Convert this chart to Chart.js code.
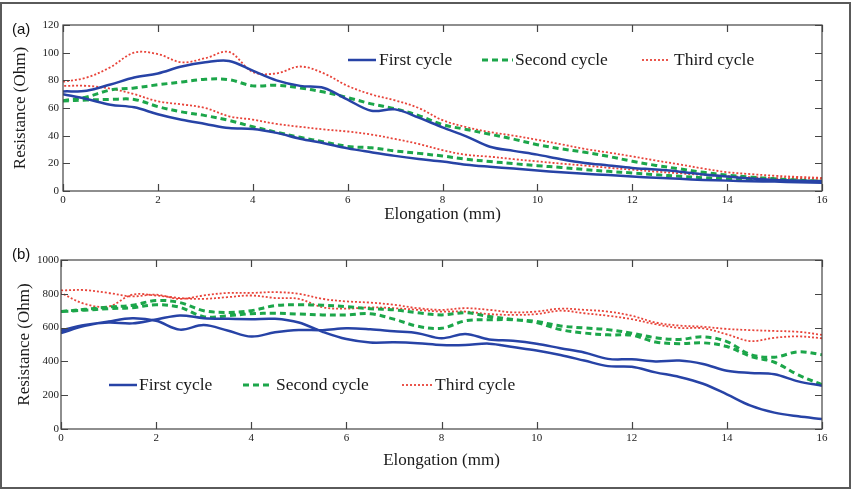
<!DOCTYPE html>
<html><head><meta charset="utf-8">
<script src="https://cdn.jsdelivr.net/npm/chart.js@4.4.0/dist/chart.umd.min.js"></script>
<style>
html,body{margin:0;padding:0;background:#fff;width:853px;height:490px;overflow:hidden;}
#frame{position:absolute;left:0;top:2px;width:851px;height:487px;box-sizing:border-box;border:2px solid #5a5a5a;}
canvas{position:absolute;left:0;}
#ca{top:0;} #cb{top:240px;}
.tag{position:absolute;font-family:"Liberation Sans",Arial,sans-serif;font-size:15px;color:#111;line-height:1;}
</style></head><body>
<div id="frame"></div>
<canvas id="ca" width="853" height="240"></canvas>
<canvas id="cb" width="853" height="250"></canvas>
<div class="tag" style="left:12px;top:21px">(a)</div>
<div class="tag" style="left:12px;top:246px">(b)</div>
<script>
// ---------- data ----------
const elongation = [0,0.5,1,1.5,2,2.5,3,3.5,4,4.5,5,5.5,6,6.5,7,7.5,8,8.5,9,9.5,10,10.5,11,11.5,12,12.5,13,13.5,14,14.5,15,15.5,16];
const seriesNames = ['First cycle','Second cycle','Third cycle'];
const xTickLabels = [0,2,4,6,8,10,12,14,16];
const yTickLabelsA = [0,20,40,60,80,100,120];
const yTickLabelsB = [0,200,400,600,800,1000];

// panel (a)
const aFirstLoad    = [72,72.5,77,82,85,90,93,94,87,80,76,74.5,66,58,59,53,46,39.5,32,29,26.3,23,20.3,18.5,16.7,15.5,14,12,10.5,9,8,7.5,7];
const aFirstUnload  = [70,66.5,62.4,60.5,55.5,51.5,48.5,45.5,44.8,42,37.8,34.5,30.8,28,25.4,23.2,21.3,19,17.5,16.2,14.8,13.5,12.5,11.5,10.5,9.5,8.8,8,7.5,7,6.8,6.3,6];
const aSecondLoad   = [65.3,68,73,74.5,76.8,78.8,80.8,80.5,76,76.5,74.5,71.5,67.5,63,59.5,54.5,48,44.5,41,37.5,33.5,30.5,28,25,21.5,18.5,16,13.5,11.5,10,8.8,7.8,7];
const aSecondUnload = [65,65.8,66.2,66.2,61,57.2,54.5,51,46.5,42.5,38.8,35.5,32.2,31.2,29,27.2,25.3,23,21.3,19.8,18.3,17,15.5,14.2,13,11.8,10.6,9.6,8.8,8.2,7.6,7.2,7];
const aThirdLoad    = [79,82,89.5,100,99,93,96,100.5,86,85,90,85,76,69.8,65.5,60,51.2,46.2,42.6,40,37,33.8,30.4,27.8,25,22,19.2,16.2,13.6,12.2,11,10.2,9.5];
const aThirdUnload  = [76,76,74,70,64.8,62.6,60,54,51.6,48.5,46.4,44.5,43,40.8,37.6,34,29.5,26.2,24.8,23,21.4,19.8,18.4,16.8,15.4,14,12.8,11.7,10.7,10,9.4,9,8.8];

// panel (b)
const bFirstA  = [583,615,630,625,648,672,656,652,650,652,630,575,532,512,513,508,497,497,505,485,465,438,405,372,368,335,308,268,205,138,97,75,59];
const bFirstB  = [567,610,636,655,640,588,615,583,547,572,586,585,596,590,578,567,537,562,530,522,505,478,453,415,412,400,405,385,345,332,324,282,256];
const bSecondA = [695,708,722,732,760,748,700,690,700,730,735,732,724,712,705,688,675,688,666,648,636,610,598,588,567,540,530,545,517,440,425,457,440];
const bSecondB = [695,703,712,718,735,720,665,670,682,685,680,675,675,682,650,608,596,640,646,646,630,588,568,557,555,515,505,510,488,430,395,320,262];
const bThirdA  = [820,822,805,785,795,770,790,805,805,810,800,770,755,748,735,715,705,715,705,690,695,712,705,695,670,630,612,605,592,585,580,575,557];
const bThirdB  = [805,740,725,795,790,775,770,780,790,775,770,720,712,720,715,705,695,695,680,675,680,700,685,670,650,620,598,596,560,520,540,548,537];

// ---------- helpers ----------
function loopPoints(load, unload) {
  const pts = load.map((v, i) => ({x: elongation[i], y: v}));
  pts.push({x: elongation[elongation.length - 1], y: null});
  for (let i = unload.length - 1; i >= 0; i--) pts.push({x: elongation[i], y: unload[i]});
  return pts;
}

const styles = [
  {borderColor: '#2743a6', borderWidth: 2.5, borderDash: []},
  {borderColor: '#1ca64a', borderWidth: 3, borderDash: [6, 4]},
  {borderColor: '#e8443a', borderWidth: 1.8, borderDash: [2, 2]}
];

function makeDatasets(pairs) {
  return pairs.map((p, i) => Object.assign({
    label: seriesNames[i],
    data: loopPoints(p[0], p[1]),
    pointRadius: 0,
    tension: 0.35,
    fill: false,
    spanGaps: false
  }, styles[i]));
}

const frameTicks = {
  id: 'frameTicks',
  afterDatasetsDraw(chart) {
    const {ctx, chartArea: a, scales: {x, y}} = chart;
    const L = 7;
    ctx.save();
    ctx.strokeStyle = '#444';
    ctx.lineWidth = 1.2;
    ctx.setLineDash([]);
    ctx.strokeRect(a.left, a.top, a.right - a.left, a.bottom - a.top);
    ctx.beginPath();
    x.ticks.forEach(t => {
      const px = Math.round(x.getPixelForValue(t.value)) + 0.5;
      ctx.moveTo(px, a.bottom); ctx.lineTo(px, a.bottom - L);
      ctx.moveTo(px, a.top); ctx.lineTo(px, a.top + L);
    });
    y.ticks.forEach(t => {
      const py = Math.round(y.getPixelForValue(t.value)) + 0.5;
      ctx.moveTo(a.left, py); ctx.lineTo(a.left + L, py);
      ctx.moveTo(a.right, py); ctx.lineTo(a.right - L, py);
    });
    ctx.stroke();
    ctx.restore();
  }
};

const insideLegend = {
  id: 'insideLegend',
  afterDraw(chart, args, opts) {
    const ctx = chart.ctx;
    ctx.save();
    opts.items.forEach((it, i) => {
      const ds = chart.data.datasets[i];
      ctx.beginPath();
      ctx.setLineDash(ds.borderDash || []);
      ctx.lineWidth = ds.borderWidth;
      ctx.strokeStyle = ds.borderColor;
      ctx.moveTo(it.x1, it.y); ctx.lineTo(it.x2, it.y);
      ctx.stroke();
      ctx.setLineDash([]);
      ctx.font = opts.font;
      ctx.fillStyle = opts.color;
      ctx.textBaseline = 'middle';
      ctx.textAlign = 'left';
      ctx.fillText(ds.label, it.tx, it.y + 0.5);
    });
    ctx.restore();
  }
};

const serif = '"Liberation Serif", "Times New Roman", serif';

function makeChart(id, datasets, yTickLabels, L) {
  return new Chart(document.getElementById(id), {
    type: 'line',
    data: {datasets},
    plugins: [frameTicks, insideLegend],
    options: {
      responsive: false,
      animation: false,
      events: [],
      layout: {padding: L.pad},
      plugins: {
        legend: {display: false},
        tooltip: {enabled: false},
        insideLegend: {items: L.legend, font: '17.5px ' + serif, color: '#1a1a1a'}
      },
      scales: {
        x: {
          type: 'linear',
          min: xTickLabels[0], max: xTickLabels[xTickLabels.length - 1],
          afterBuildTicks: s => { s.ticks = xTickLabels.map(v => ({value: v})); },
          afterFit: s => { s.height = L.xh; },
          grid: {display: false, drawTicks: false},
          border: {display: false},
          ticks: {padding: 3, color: '#1a1a1a', font: {family: serif, size: 11}, maxRotation: 0,
                  callback: v => String(v)},
          title: {display: true, text: 'Elongation (mm)', color: '#1a1a1a',
                  font: {family: serif, size: 17}, padding: {top: 0, bottom: L.xtPad}}
        },
        y: {
          type: 'linear',
          min: yTickLabels[0], max: yTickLabels[yTickLabels.length - 1],
          afterBuildTicks: s => { s.ticks = yTickLabels.map(v => ({value: v})); },
          afterFit: s => { s.width = L.yw; },
          grid: {display: false, drawTicks: false},
          border: {display: false},
          ticks: {padding: L.ylPad, color: '#1a1a1a', font: {family: serif, size: 11},
                  callback: v => String(v)},
          title: {display: true, text: 'Resistance (Ohm)', color: '#1a1a1a',
                  font: {family: serif, size: 17}, padding: {top: L.ytPad, bottom: 0}}
        }
      }
    }
  });
}

makeChart('ca', makeDatasets([[aFirstLoad, aFirstUnload], [aSecondLoad, aSecondUnload], [aThirdLoad, aThirdUnload]]),
  yTickLabelsA, {
    pad: {left: 0, right: 31, top: 25, bottom: 9}, xh: 40, yw: 63, xtPad: 6, ytPad: 10, ylPad: 4,
    legend: [{x1: 348, x2: 376, tx: 379, y: 60}, {x1: 482, x2: 513, tx: 515, y: 60}, {x1: 642, x2: 670, tx: 674, y: 60}]
  });

makeChart('cb', makeDatasets([[bFirstA, bFirstB], [bSecondA, bSecondB], [bThirdA, bThirdB]]),
  yTickLabelsB, {
    pad: {left: 0, right: 31, top: 20, bottom: 16}, xh: 45, yw: 61, xtPad: 3, ytPad: 14, ylPad: 2,
    legend: [{x1: 109, x2: 137, tx: 139, y: 145}, {x1: 243, x2: 273, tx: 276, y: 145}, {x1: 402, x2: 432, tx: 435, y: 145}]
  });
</script></body></html>
